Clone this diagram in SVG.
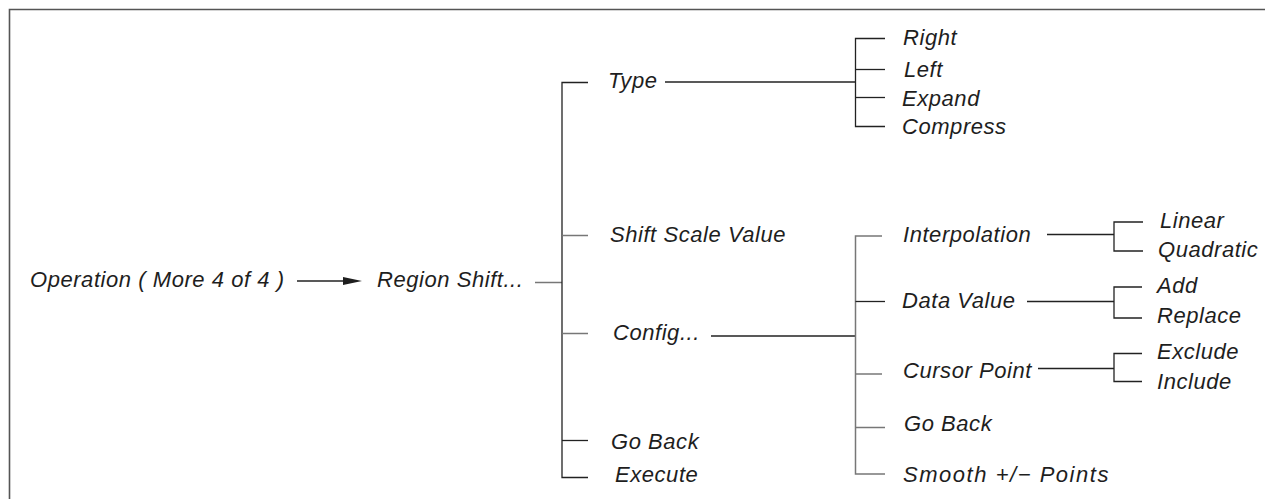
<svg xmlns="http://www.w3.org/2000/svg" width="1265" height="499" viewBox="0 0 1265 499">
<style>
text{font-family:"Liberation Sans",Arial,sans-serif;font-style:italic;font-size:22px;letter-spacing:0.55px;fill:#1e1e1e}
.c{fill:none;stroke:#222;stroke-width:1.3}
.g{fill:none;stroke:#777;stroke-width:1.5}
.frame{fill:none;stroke:#555;stroke-width:1.6}
</style>
<rect width="1265" height="499" fill="#fff"/>
<path class="frame" d="M9.5 499 V9.5 H1265"/>
<g id="connectors">
<line class="c" x1="297" y1="281" x2="346" y2="281"/>
<polygon points="362,281 343,277 343,285" fill="#1e1e1e"/>
<line class="g" x1="535" y1="282.5" x2="562" y2="282.5"/>
<path class="c" d="M588 82.5 H562 V477.5 H588"/>
<line class="g" x1="562" y1="235.5" x2="588" y2="235.5"/>
<line class="g" x1="562" y1="333.5" x2="588" y2="333.5"/>
<line class="c" x1="562" y1="440.5" x2="588" y2="440.5"/>
<line class="c" x1="665" y1="82" x2="855" y2="82"/>
<path class="c" d="M885 38.5 H855.5 V126.5 H885"/>
<line class="c" x1="855.5" y1="69.5" x2="885" y2="69.5"/>
<line class="c" x1="855.5" y1="97.5" x2="885" y2="97.5"/>
<line class="c" x1="711" y1="336" x2="855" y2="336"/>
<path class="g" d="M882 236 H855.5 V474 H885"/>
<line class="c" x1="855.5" y1="301.5" x2="885" y2="301.5"/>
<line class="g" x1="855.5" y1="374" x2="882" y2="374"/>
<line class="g" x1="855.5" y1="427.5" x2="885" y2="427.5"/>
<line class="c" x1="1047" y1="234.5" x2="1114" y2="234.5"/>
<path class="c" d="M1143 222 H1114 V251 H1143"/>
<line class="c" x1="1027" y1="301.5" x2="1114" y2="301.5"/>
<path class="c" d="M1142 287 H1114 V318 H1142"/>
<line class="c" x1="1038" y1="368.5" x2="1114" y2="368.5"/>
<path class="c" d="M1142 353.5 H1114 V381.5 H1142"/>
</g>
<g id="operation"><text x="30" y="287">Operation ( More 4 of 4 )</text></g>
<g id="region-shift"><text x="377" y="287">Region Shift...</text></g>
<g id="type"><text x="608" y="88">Type</text></g>
<g id="right"><text x="903" y="45">Right</text></g>
<g id="left"><text x="904" y="77">Left</text></g>
<g id="expand"><text x="902" y="106">Expand</text></g>
<g id="compress"><text x="902" y="134">Compress</text></g>
<g id="shift-scale-value"><text x="610" y="242">Shift Scale Value</text></g>
<g id="config"><text x="613" y="340">Config...</text></g>
<g id="go-back-1"><text x="611" y="449">Go Back</text></g>
<g id="execute"><text x="615" y="482">Execute</text></g>
<g id="interpolation"><text x="903" y="242">Interpolation</text></g>
<g id="linear"><text x="1160" y="228">Linear</text></g>
<g id="quadratic"><text x="1158" y="257">Quadratic</text></g>
<g id="data-value"><text x="902" y="308">Data Value</text></g>
<g id="add"><text x="1157" y="293">Add</text></g>
<g id="replace"><text x="1157" y="323">Replace</text></g>
<g id="cursor-point"><text x="903" y="378">Cursor Point</text></g>
<g id="exclude"><text x="1157" y="359">Exclude</text></g>
<g id="include"><text x="1157" y="389">Include</text></g>
<g id="go-back-2"><text x="904" y="431">Go Back</text></g>
<g id="smooth"><text x="903" y="482" textLength="206" lengthAdjust="spacing">Smooth +/− Points</text></g>
</svg>
